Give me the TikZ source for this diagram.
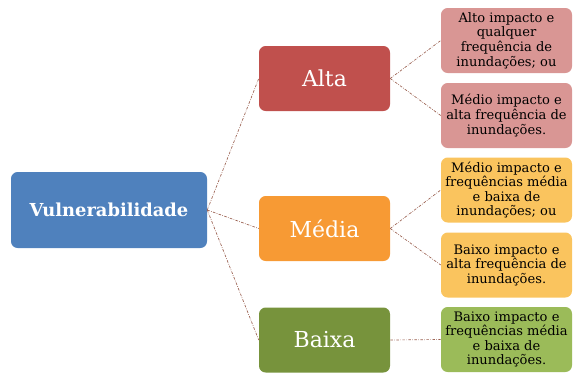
\documentclass[tikz,border=0pt]{standalone}
\usepackage{fontspec}
\setmainfont{DejaVu Serif}
\definecolor{vblue}{HTML}{4F81BD}
\definecolor{vred}{HTML}{C0504D}
\definecolor{vorange}{HTML}{F79A34}
\definecolor{vgreen}{HTML}{77933C}
\definecolor{lred}{HTML}{D99694}
\definecolor{lorange}{HTML}{FAC45E}
\definecolor{lgreen}{HTML}{9BBB59}
\definecolor{conn}{HTML}{9A6050}
\tikzset{
  box/.style={rounded corners=5pt, inner sep=0pt, align=center},
  mainbox/.style={box, minimum width=131*0.75pt, minimum height=65*0.75pt, text=white, font=\fontsize{16.5}{18}\selectfont},
  leafbox/.style={box, minimum width=131*0.75pt, minimum height=65*0.75pt, text=black, font=\fontsize{9.8}{10.9}\selectfont},
  conn/.style={draw=conn, line width=0.5pt, dash pattern=on 2pt off 1pt on 0.5pt off 1pt}
}
\begin{document}
\begin{tikzpicture}[x=0.75pt,y=-0.75pt]
\useasboundingbox (0,0) rectangle (573,372);
\node[box, fill=vblue, minimum width=196*0.75pt, minimum height=76*0.75pt, text=white, font=\fontsize{13.4}{15}\selectfont\bfseries] (vul) at (109,210) {Vulnerabilidade};
\node[mainbox, fill=vred] (alta) at (324.5,78.5) {Alta};
\node[mainbox, fill=vorange] (media) at (324.5,228.5) {Média};
\node[mainbox, fill=vgreen] (baixa) at (324.5,340) {Baixa};
\node[leafbox, fill=lred] (l1) at (506.5,40.5) {Alto impacto e\\qualquer\\frequência de\\inundações; ou};
\node[leafbox, fill=lred] (l2) at (506.5,115.5) {Médio impacto e\\alta frequência de\\inundações.};
\node[leafbox, fill=lorange] (l3) at (506.5,190) {Médio impacto e\\frequências média\\e baixa de\\inundações; ou};
\node[leafbox, fill=lorange] (l4) at (506.5,265) {Baixo impacto e\\alta frequência de\\inundações.};
\node[leafbox, fill=lgreen] (l5) at (506.5,339.5) {Baixo impacto e\\frequências média\\e baixa de\\inundações.};
\draw[conn] (vul.east) -- (alta.west);
\draw[conn] (vul.east) -- (media.west);
\draw[conn] (vul.east) -- (baixa.west);
\draw[conn] (alta.east) -- (l1.west);
\draw[conn] (alta.east) -- (l2.west);
\draw[conn] (media.east) -- (l3.west);
\draw[conn] (media.east) -- (l4.west);
\draw[conn] (baixa.east) -- (l5.west);
\end{tikzpicture}
\end{document}
